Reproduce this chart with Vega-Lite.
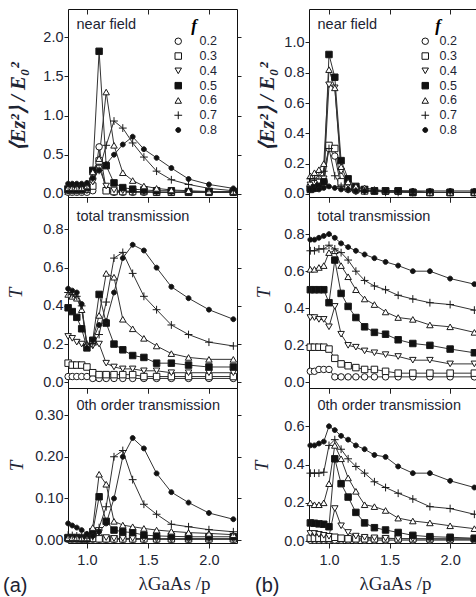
{
"$schema": "https://vega.github.io/schema/vega-lite/v6.json",
"padding": {"left": 2, "top": 8, "right": 0, "bottom": 0},
"background": "white",
"config": {
 "view": {"stroke": "#111", "strokeWidth": 1},
 "axis": {"grid": false, "domain": false, "labelFont": "Liberation Sans", "labelFontSize": 14.5, "labelColor": "#1d2433", "tickColor": "#222", "tickWidth": 1, "labelFlush": false, "titleFont": "Liberation Serif", "titleColor": "#1d2433", "titleFontWeight": "normal"},
 "legend": {"padding": 0}
},
"datasets": {
"a1": [
{"f":"0.2","x":0.846,"y":0.02},{"f":"0.2","x":0.88,"y":0.02},{"f":"0.2","x":0.917,"y":0.02},{"f":"0.2","x":0.957,"y":0.02},{"f":"0.2","x":1.0,"y":0.02},{"f":"0.2","x":1.048,"y":0.04},{"f":"0.2","x":1.1,"y":0.6},{"f":"0.2","x":1.158,"y":0.05},{"f":"0.2","x":1.222,"y":0.02},{"f":"0.2","x":1.294,"y":0.02},{"f":"0.2","x":1.375,"y":0.02},{"f":"0.2","x":1.467,"y":0.02},{"f":"0.2","x":1.571,"y":0.02},{"f":"0.2","x":1.692,"y":0.02},{"f":"0.2","x":1.833,"y":0.02},{"f":"0.2","x":2.0,"y":0.02},{"f":"0.2","x":2.2,"y":0.02},
{"f":"0.3","x":0.846,"y":0.05},{"f":"0.3","x":0.88,"y":0.05},{"f":"0.3","x":0.917,"y":0.05},{"f":"0.3","x":0.957,"y":0.05},{"f":"0.3","x":1.0,"y":0.06},{"f":"0.3","x":1.048,"y":0.1},{"f":"0.3","x":1.1,"y":0.42},{"f":"0.3","x":1.158,"y":0.04},{"f":"0.3","x":1.222,"y":0.03},{"f":"0.3","x":1.294,"y":0.03},{"f":"0.3","x":1.375,"y":0.03},{"f":"0.3","x":1.467,"y":0.03},{"f":"0.3","x":1.571,"y":0.02},{"f":"0.3","x":1.692,"y":0.02},{"f":"0.3","x":1.833,"y":0.02},{"f":"0.3","x":2.0,"y":0.02},{"f":"0.3","x":2.2,"y":0.02},
{"f":"0.4","x":0.846,"y":0.03},{"f":"0.4","x":0.88,"y":0.03},{"f":"0.4","x":0.917,"y":0.03},{"f":"0.4","x":0.957,"y":0.03},{"f":"0.4","x":1.0,"y":0.04},{"f":"0.4","x":1.048,"y":0.15},{"f":"0.4","x":1.1,"y":0.33},{"f":"0.4","x":1.158,"y":0.1},{"f":"0.4","x":1.222,"y":0.05},{"f":"0.4","x":1.294,"y":0.04},{"f":"0.4","x":1.375,"y":0.03},{"f":"0.4","x":1.467,"y":0.03},{"f":"0.4","x":1.571,"y":0.02},{"f":"0.4","x":1.692,"y":0.02},{"f":"0.4","x":1.833,"y":0.02},{"f":"0.4","x":2.0,"y":0.02},{"f":"0.4","x":2.2,"y":0.02},
{"f":"0.5","x":0.846,"y":0.06},{"f":"0.5","x":0.88,"y":0.06},{"f":"0.5","x":0.917,"y":0.06},{"f":"0.5","x":0.957,"y":0.06},{"f":"0.5","x":1.0,"y":0.08},{"f":"0.5","x":1.048,"y":0.3},{"f":"0.5","x":1.1,"y":1.82},{"f":"0.5","x":1.158,"y":0.36},{"f":"0.5","x":1.222,"y":0.14},{"f":"0.5","x":1.294,"y":0.08},{"f":"0.5","x":1.375,"y":0.06},{"f":"0.5","x":1.467,"y":0.05},{"f":"0.5","x":1.571,"y":0.04},{"f":"0.5","x":1.692,"y":0.04},{"f":"0.5","x":1.833,"y":0.03},{"f":"0.5","x":2.0,"y":0.03},{"f":"0.5","x":2.2,"y":0.03},
{"f":"0.6","x":0.846,"y":0.08},{"f":"0.6","x":0.88,"y":0.08},{"f":"0.6","x":0.917,"y":0.08},{"f":"0.6","x":0.957,"y":0.08},{"f":"0.6","x":1.0,"y":0.1},{"f":"0.6","x":1.048,"y":0.28},{"f":"0.6","x":1.1,"y":0.45},{"f":"0.6","x":1.158,"y":1.3},{"f":"0.6","x":1.222,"y":0.62},{"f":"0.6","x":1.294,"y":0.27},{"f":"0.6","x":1.375,"y":0.17},{"f":"0.6","x":1.467,"y":0.1},{"f":"0.6","x":1.571,"y":0.07},{"f":"0.6","x":1.692,"y":0.05},{"f":"0.6","x":1.833,"y":0.04},{"f":"0.6","x":2.0,"y":0.03},{"f":"0.6","x":2.2,"y":0.03},
{"f":"0.7","x":0.846,"y":0.1},{"f":"0.7","x":0.88,"y":0.1},{"f":"0.7","x":0.917,"y":0.1},{"f":"0.7","x":0.957,"y":0.1},{"f":"0.7","x":1.0,"y":0.12},{"f":"0.7","x":1.048,"y":0.2},{"f":"0.7","x":1.1,"y":0.3},{"f":"0.7","x":1.158,"y":0.62},{"f":"0.7","x":1.222,"y":0.93},{"f":"0.7","x":1.294,"y":0.84},{"f":"0.7","x":1.375,"y":0.65},{"f":"0.7","x":1.467,"y":0.47},{"f":"0.7","x":1.571,"y":0.29},{"f":"0.7","x":1.692,"y":0.18},{"f":"0.7","x":1.833,"y":0.12},{"f":"0.7","x":2.0,"y":0.07},{"f":"0.7","x":2.2,"y":0.04},
{"f":"0.8","x":0.846,"y":0.13},{"f":"0.8","x":0.88,"y":0.13},{"f":"0.8","x":0.917,"y":0.13},{"f":"0.8","x":0.957,"y":0.13},{"f":"0.8","x":1.0,"y":0.14},{"f":"0.8","x":1.048,"y":0.2},{"f":"0.8","x":1.1,"y":0.3},{"f":"0.8","x":1.158,"y":0.38},{"f":"0.8","x":1.222,"y":0.5},{"f":"0.8","x":1.294,"y":0.63},{"f":"0.8","x":1.375,"y":0.73},{"f":"0.8","x":1.467,"y":0.57},{"f":"0.8","x":1.571,"y":0.46},{"f":"0.8","x":1.692,"y":0.33},{"f":"0.8","x":1.833,"y":0.19},{"f":"0.8","x":2.0,"y":0.12},{"f":"0.8","x":2.2,"y":0.07}
],
"b1": [
{"f":"0.2","x":0.846,"y":0.05},{"f":"0.2","x":0.88,"y":0.06},{"f":"0.2","x":0.917,"y":0.06},{"f":"0.2","x":0.957,"y":0.08},{"f":"0.2","x":1.0,"y":0.3},{"f":"0.2","x":1.048,"y":0.25},{"f":"0.2","x":1.1,"y":0.05},{"f":"0.2","x":1.158,"y":0.03},{"f":"0.2","x":1.222,"y":0.02},{"f":"0.2","x":1.294,"y":0.02},{"f":"0.2","x":1.375,"y":0.02},{"f":"0.2","x":1.467,"y":0.02},{"f":"0.2","x":1.571,"y":0.02},{"f":"0.2","x":1.692,"y":0.01},{"f":"0.2","x":1.833,"y":0.01},{"f":"0.2","x":2.0,"y":0.01},{"f":"0.2","x":2.2,"y":0.01},
{"f":"0.3","x":0.846,"y":0.04},{"f":"0.3","x":0.88,"y":0.04},{"f":"0.3","x":0.917,"y":0.05},{"f":"0.3","x":0.957,"y":0.07},{"f":"0.3","x":1.0,"y":0.32},{"f":"0.3","x":1.048,"y":0.3},{"f":"0.3","x":1.1,"y":0.08},{"f":"0.3","x":1.158,"y":0.04},{"f":"0.3","x":1.222,"y":0.03},{"f":"0.3","x":1.294,"y":0.02},{"f":"0.3","x":1.375,"y":0.02},{"f":"0.3","x":1.467,"y":0.02},{"f":"0.3","x":1.571,"y":0.02},{"f":"0.3","x":1.692,"y":0.01},{"f":"0.3","x":1.833,"y":0.01},{"f":"0.3","x":2.0,"y":0.01},{"f":"0.3","x":2.2,"y":0.01},
{"f":"0.4","x":0.846,"y":0.06},{"f":"0.4","x":0.88,"y":0.07},{"f":"0.4","x":0.917,"y":0.08},{"f":"0.4","x":0.957,"y":0.1},{"f":"0.4","x":1.0,"y":0.72},{"f":"0.4","x":1.048,"y":0.7},{"f":"0.4","x":1.1,"y":0.15},{"f":"0.4","x":1.158,"y":0.06},{"f":"0.4","x":1.222,"y":0.04},{"f":"0.4","x":1.294,"y":0.03},{"f":"0.4","x":1.375,"y":0.02},{"f":"0.4","x":1.467,"y":0.02},{"f":"0.4","x":1.571,"y":0.02},{"f":"0.4","x":1.692,"y":0.01},{"f":"0.4","x":1.833,"y":0.01},{"f":"0.4","x":2.0,"y":0.01},{"f":"0.4","x":2.2,"y":0.01},
{"f":"0.5","x":0.846,"y":0.03},{"f":"0.5","x":0.88,"y":0.04},{"f":"0.5","x":0.917,"y":0.05},{"f":"0.5","x":0.957,"y":0.08},{"f":"0.5","x":1.0,"y":0.92},{"f":"0.5","x":1.048,"y":0.77},{"f":"0.5","x":1.1,"y":0.22},{"f":"0.5","x":1.158,"y":0.1},{"f":"0.5","x":1.222,"y":0.05},{"f":"0.5","x":1.294,"y":0.03},{"f":"0.5","x":1.375,"y":0.02},{"f":"0.5","x":1.467,"y":0.02},{"f":"0.5","x":1.571,"y":0.02},{"f":"0.5","x":1.692,"y":0.01},{"f":"0.5","x":1.833,"y":0.01},{"f":"0.5","x":2.0,"y":0.01},{"f":"0.5","x":2.2,"y":0.01},
{"f":"0.6","x":0.846,"y":0.12},{"f":"0.6","x":0.88,"y":0.14},{"f":"0.6","x":0.917,"y":0.16},{"f":"0.6","x":0.957,"y":0.2},{"f":"0.6","x":1.0,"y":0.82},{"f":"0.6","x":1.048,"y":0.7},{"f":"0.6","x":1.1,"y":0.18},{"f":"0.6","x":1.158,"y":0.08},{"f":"0.6","x":1.222,"y":0.05},{"f":"0.6","x":1.294,"y":0.04},{"f":"0.6","x":1.375,"y":0.03},{"f":"0.6","x":1.467,"y":0.02},{"f":"0.6","x":1.571,"y":0.02},{"f":"0.6","x":1.692,"y":0.02},{"f":"0.6","x":1.833,"y":0.01},{"f":"0.6","x":2.0,"y":0.01},{"f":"0.6","x":2.2,"y":0.01},
{"f":"0.7","x":0.846,"y":0.1},{"f":"0.7","x":0.88,"y":0.1},{"f":"0.7","x":0.917,"y":0.12},{"f":"0.7","x":0.957,"y":0.15},{"f":"0.7","x":1.0,"y":0.3},{"f":"0.7","x":1.048,"y":0.12},{"f":"0.7","x":1.1,"y":0.05},{"f":"0.7","x":1.158,"y":0.03},{"f":"0.7","x":1.222,"y":0.02},{"f":"0.7","x":1.294,"y":0.02},{"f":"0.7","x":1.375,"y":0.02},{"f":"0.7","x":1.467,"y":0.01},{"f":"0.7","x":1.571,"y":0.01},{"f":"0.7","x":1.692,"y":0.01},{"f":"0.7","x":1.833,"y":0.01},{"f":"0.7","x":2.0,"y":0.01},{"f":"0.7","x":2.2,"y":0.01},
{"f":"0.8","x":0.846,"y":0.03},{"f":"0.8","x":0.88,"y":0.03},{"f":"0.8","x":0.917,"y":0.03},{"f":"0.8","x":0.957,"y":0.04},{"f":"0.8","x":1.0,"y":0.05},{"f":"0.8","x":1.048,"y":0.04},{"f":"0.8","x":1.1,"y":0.03},{"f":"0.8","x":1.158,"y":0.03},{"f":"0.8","x":1.222,"y":0.02},{"f":"0.8","x":1.294,"y":0.02},{"f":"0.8","x":1.375,"y":0.02},{"f":"0.8","x":1.467,"y":0.02},{"f":"0.8","x":1.571,"y":0.02},{"f":"0.8","x":1.692,"y":0.02},{"f":"0.8","x":1.833,"y":0.02},{"f":"0.8","x":2.0,"y":0.02},{"f":"0.8","x":2.2,"y":0.02}
],
"a2": [
{"f":"0.2","x":0.846,"y":0.03},{"f":"0.2","x":0.88,"y":0.03},{"f":"0.2","x":0.917,"y":0.03},{"f":"0.2","x":0.957,"y":0.03},{"f":"0.2","x":1.0,"y":0.03},{"f":"0.2","x":1.048,"y":0.02},{"f":"0.2","x":1.1,"y":0.02},{"f":"0.2","x":1.158,"y":0.02},{"f":"0.2","x":1.222,"y":0.02},{"f":"0.2","x":1.294,"y":0.02},{"f":"0.2","x":1.375,"y":0.02},{"f":"0.2","x":1.467,"y":0.02},{"f":"0.2","x":1.571,"y":0.02},{"f":"0.2","x":1.692,"y":0.02},{"f":"0.2","x":1.833,"y":0.02},{"f":"0.2","x":2.0,"y":0.02},{"f":"0.2","x":2.2,"y":0.02},
{"f":"0.3","x":0.846,"y":0.1},{"f":"0.3","x":0.88,"y":0.09},{"f":"0.3","x":0.917,"y":0.09},{"f":"0.3","x":0.957,"y":0.09},{"f":"0.3","x":1.0,"y":0.08},{"f":"0.3","x":1.048,"y":0.05},{"f":"0.3","x":1.1,"y":0.04},{"f":"0.3","x":1.158,"y":0.04},{"f":"0.3","x":1.222,"y":0.04},{"f":"0.3","x":1.294,"y":0.04},{"f":"0.3","x":1.375,"y":0.04},{"f":"0.3","x":1.467,"y":0.03},{"f":"0.3","x":1.571,"y":0.03},{"f":"0.3","x":1.692,"y":0.03},{"f":"0.3","x":1.833,"y":0.03},{"f":"0.3","x":2.0,"y":0.03},{"f":"0.3","x":2.2,"y":0.03},
{"f":"0.4","x":0.846,"y":0.24},{"f":"0.4","x":0.88,"y":0.23},{"f":"0.4","x":0.917,"y":0.21},{"f":"0.4","x":0.957,"y":0.2},{"f":"0.4","x":1.0,"y":0.18},{"f":"0.4","x":1.048,"y":0.19},{"f":"0.4","x":1.1,"y":0.2},{"f":"0.4","x":1.158,"y":0.1},{"f":"0.4","x":1.222,"y":0.08},{"f":"0.4","x":1.294,"y":0.07},{"f":"0.4","x":1.375,"y":0.07},{"f":"0.4","x":1.467,"y":0.06},{"f":"0.4","x":1.571,"y":0.06},{"f":"0.4","x":1.692,"y":0.05},{"f":"0.4","x":1.833,"y":0.05},{"f":"0.4","x":2.0,"y":0.05},{"f":"0.4","x":2.2,"y":0.05},
{"f":"0.5","x":0.846,"y":0.39},{"f":"0.5","x":0.88,"y":0.37},{"f":"0.5","x":0.917,"y":0.34},{"f":"0.5","x":0.957,"y":0.28},{"f":"0.5","x":1.0,"y":0.18},{"f":"0.5","x":1.048,"y":0.22},{"f":"0.5","x":1.1,"y":0.46},{"f":"0.5","x":1.158,"y":0.31},{"f":"0.5","x":1.222,"y":0.2},{"f":"0.5","x":1.294,"y":0.17},{"f":"0.5","x":1.375,"y":0.14},{"f":"0.5","x":1.467,"y":0.13},{"f":"0.5","x":1.571,"y":0.1},{"f":"0.5","x":1.692,"y":0.1},{"f":"0.5","x":1.833,"y":0.09},{"f":"0.5","x":2.0,"y":0.08},{"f":"0.5","x":2.2,"y":0.08},
{"f":"0.6","x":0.846,"y":0.46},{"f":"0.6","x":0.88,"y":0.45},{"f":"0.6","x":0.917,"y":0.44},{"f":"0.6","x":0.957,"y":0.38},{"f":"0.6","x":1.0,"y":0.2},{"f":"0.6","x":1.048,"y":0.22},{"f":"0.6","x":1.1,"y":0.35},{"f":"0.6","x":1.158,"y":0.57},{"f":"0.6","x":1.222,"y":0.55},{"f":"0.6","x":1.294,"y":0.33},{"f":"0.6","x":1.375,"y":0.28},{"f":"0.6","x":1.467,"y":0.23},{"f":"0.6","x":1.571,"y":0.19},{"f":"0.6","x":1.692,"y":0.15},{"f":"0.6","x":1.833,"y":0.13},{"f":"0.6","x":2.0,"y":0.12},{"f":"0.6","x":2.2,"y":0.12},
{"f":"0.7","x":0.846,"y":0.47},{"f":"0.7","x":0.88,"y":0.46},{"f":"0.7","x":0.917,"y":0.45},{"f":"0.7","x":0.957,"y":0.4},{"f":"0.7","x":1.0,"y":0.2},{"f":"0.7","x":1.048,"y":0.2},{"f":"0.7","x":1.1,"y":0.25},{"f":"0.7","x":1.158,"y":0.42},{"f":"0.7","x":1.222,"y":0.65},{"f":"0.7","x":1.294,"y":0.68},{"f":"0.7","x":1.375,"y":0.57},{"f":"0.7","x":1.467,"y":0.45},{"f":"0.7","x":1.571,"y":0.38},{"f":"0.7","x":1.692,"y":0.3},{"f":"0.7","x":1.833,"y":0.25},{"f":"0.7","x":2.0,"y":0.21},{"f":"0.7","x":2.2,"y":0.19},
{"f":"0.8","x":0.846,"y":0.49},{"f":"0.8","x":0.88,"y":0.48},{"f":"0.8","x":0.917,"y":0.47},{"f":"0.8","x":0.957,"y":0.41},{"f":"0.8","x":1.0,"y":0.18},{"f":"0.8","x":1.048,"y":0.22},{"f":"0.8","x":1.1,"y":0.3},{"f":"0.8","x":1.158,"y":0.32},{"f":"0.8","x":1.222,"y":0.47},{"f":"0.8","x":1.294,"y":0.65},{"f":"0.8","x":1.375,"y":0.72},{"f":"0.8","x":1.467,"y":0.69},{"f":"0.8","x":1.571,"y":0.6},{"f":"0.8","x":1.692,"y":0.5},{"f":"0.8","x":1.833,"y":0.44},{"f":"0.8","x":2.0,"y":0.38},{"f":"0.8","x":2.2,"y":0.33}
],
"b2": [
{"f":"0.2","x":0.846,"y":0.06},{"f":"0.2","x":0.88,"y":0.06},{"f":"0.2","x":0.917,"y":0.07},{"f":"0.2","x":0.957,"y":0.07},{"f":"0.2","x":1.0,"y":0.07},{"f":"0.2","x":1.048,"y":0.03},{"f":"0.2","x":1.1,"y":0.03},{"f":"0.2","x":1.158,"y":0.03},{"f":"0.2","x":1.222,"y":0.03},{"f":"0.2","x":1.294,"y":0.03},{"f":"0.2","x":1.375,"y":0.03},{"f":"0.2","x":1.467,"y":0.03},{"f":"0.2","x":1.571,"y":0.03},{"f":"0.2","x":1.692,"y":0.03},{"f":"0.2","x":1.833,"y":0.03},{"f":"0.2","x":2.0,"y":0.03},{"f":"0.2","x":2.2,"y":0.03},
{"f":"0.3","x":0.846,"y":0.19},{"f":"0.3","x":0.88,"y":0.19},{"f":"0.3","x":0.917,"y":0.19},{"f":"0.3","x":0.957,"y":0.19},{"f":"0.3","x":1.0,"y":0.18},{"f":"0.3","x":1.048,"y":0.13},{"f":"0.3","x":1.1,"y":0.1},{"f":"0.3","x":1.158,"y":0.09},{"f":"0.3","x":1.222,"y":0.08},{"f":"0.3","x":1.294,"y":0.07},{"f":"0.3","x":1.375,"y":0.07},{"f":"0.3","x":1.467,"y":0.06},{"f":"0.3","x":1.571,"y":0.05},{"f":"0.3","x":1.692,"y":0.05},{"f":"0.3","x":1.833,"y":0.05},{"f":"0.3","x":2.0,"y":0.05},{"f":"0.3","x":2.2,"y":0.05},
{"f":"0.4","x":0.846,"y":0.35},{"f":"0.4","x":0.88,"y":0.35},{"f":"0.4","x":0.917,"y":0.34},{"f":"0.4","x":0.957,"y":0.34},{"f":"0.4","x":1.0,"y":0.3},{"f":"0.4","x":1.048,"y":0.41},{"f":"0.4","x":1.1,"y":0.26},{"f":"0.4","x":1.158,"y":0.2},{"f":"0.4","x":1.222,"y":0.19},{"f":"0.4","x":1.294,"y":0.17},{"f":"0.4","x":1.375,"y":0.16},{"f":"0.4","x":1.467,"y":0.15},{"f":"0.4","x":1.571,"y":0.14},{"f":"0.4","x":1.692,"y":0.12},{"f":"0.4","x":1.833,"y":0.12},{"f":"0.4","x":2.0,"y":0.1},{"f":"0.4","x":2.2,"y":0.1},
{"f":"0.5","x":0.846,"y":0.5},{"f":"0.5","x":0.88,"y":0.5},{"f":"0.5","x":0.917,"y":0.5},{"f":"0.5","x":0.957,"y":0.5},{"f":"0.5","x":1.0,"y":0.43},{"f":"0.5","x":1.048,"y":0.66},{"f":"0.5","x":1.1,"y":0.48},{"f":"0.5","x":1.158,"y":0.41},{"f":"0.5","x":1.222,"y":0.35},{"f":"0.5","x":1.294,"y":0.3},{"f":"0.5","x":1.375,"y":0.27},{"f":"0.5","x":1.467,"y":0.26},{"f":"0.5","x":1.571,"y":0.23},{"f":"0.5","x":1.692,"y":0.21},{"f":"0.5","x":1.833,"y":0.2},{"f":"0.5","x":2.0,"y":0.18},{"f":"0.5","x":2.2,"y":0.16},
{"f":"0.6","x":0.846,"y":0.61},{"f":"0.6","x":0.88,"y":0.61},{"f":"0.6","x":0.917,"y":0.62},{"f":"0.6","x":0.957,"y":0.63},{"f":"0.6","x":1.0,"y":0.7},{"f":"0.6","x":1.048,"y":0.71},{"f":"0.6","x":1.1,"y":0.63},{"f":"0.6","x":1.158,"y":0.57},{"f":"0.6","x":1.222,"y":0.5},{"f":"0.6","x":1.294,"y":0.45},{"f":"0.6","x":1.375,"y":0.42},{"f":"0.6","x":1.467,"y":0.38},{"f":"0.6","x":1.571,"y":0.35},{"f":"0.6","x":1.692,"y":0.34},{"f":"0.6","x":1.833,"y":0.31},{"f":"0.6","x":2.0,"y":0.3},{"f":"0.6","x":2.2,"y":0.27},
{"f":"0.7","x":0.846,"y":0.71},{"f":"0.7","x":0.88,"y":0.71},{"f":"0.7","x":0.917,"y":0.72},{"f":"0.7","x":0.957,"y":0.72},{"f":"0.7","x":1.0,"y":0.74},{"f":"0.7","x":1.048,"y":0.72},{"f":"0.7","x":1.1,"y":0.7},{"f":"0.7","x":1.158,"y":0.66},{"f":"0.7","x":1.222,"y":0.6},{"f":"0.7","x":1.294,"y":0.55},{"f":"0.7","x":1.375,"y":0.52},{"f":"0.7","x":1.467,"y":0.5},{"f":"0.7","x":1.571,"y":0.47},{"f":"0.7","x":1.692,"y":0.45},{"f":"0.7","x":1.833,"y":0.43},{"f":"0.7","x":2.0,"y":0.42},{"f":"0.7","x":2.2,"y":0.39},
{"f":"0.8","x":0.846,"y":0.77},{"f":"0.8","x":0.88,"y":0.77},{"f":"0.8","x":0.917,"y":0.78},{"f":"0.8","x":0.957,"y":0.79},{"f":"0.8","x":1.0,"y":0.8},{"f":"0.8","x":1.048,"y":0.78},{"f":"0.8","x":1.1,"y":0.75},{"f":"0.8","x":1.158,"y":0.73},{"f":"0.8","x":1.222,"y":0.71},{"f":"0.8","x":1.294,"y":0.69},{"f":"0.8","x":1.375,"y":0.67},{"f":"0.8","x":1.467,"y":0.65},{"f":"0.8","x":1.571,"y":0.63},{"f":"0.8","x":1.692,"y":0.6},{"f":"0.8","x":1.833,"y":0.6},{"f":"0.8","x":2.0,"y":0.56},{"f":"0.8","x":2.2,"y":0.53}
],
"a3": [
{"f":"0.2","x":0.846,"y":0.002},{"f":"0.2","x":0.88,"y":0.002},{"f":"0.2","x":0.917,"y":0.002},{"f":"0.2","x":0.957,"y":0.002},{"f":"0.2","x":1.0,"y":0.002},{"f":"0.2","x":1.048,"y":0.002},{"f":"0.2","x":1.1,"y":0.002},{"f":"0.2","x":1.158,"y":0.002},{"f":"0.2","x":1.222,"y":0.002},{"f":"0.2","x":1.294,"y":0.002},{"f":"0.2","x":1.375,"y":0.002},{"f":"0.2","x":1.467,"y":0.002},{"f":"0.2","x":1.571,"y":0.002},{"f":"0.2","x":1.692,"y":0.002},{"f":"0.2","x":1.833,"y":0.002},{"f":"0.2","x":2.0,"y":0.002},{"f":"0.2","x":2.2,"y":0.002},
{"f":"0.3","x":0.846,"y":0.006},{"f":"0.3","x":0.88,"y":0.006},{"f":"0.3","x":0.917,"y":0.006},{"f":"0.3","x":0.957,"y":0.006},{"f":"0.3","x":1.0,"y":0.005},{"f":"0.3","x":1.048,"y":0.004},{"f":"0.3","x":1.1,"y":0.003},{"f":"0.3","x":1.158,"y":0.003},{"f":"0.3","x":1.222,"y":0.003},{"f":"0.3","x":1.294,"y":0.003},{"f":"0.3","x":1.375,"y":0.003},{"f":"0.3","x":1.467,"y":0.003},{"f":"0.3","x":1.571,"y":0.003},{"f":"0.3","x":1.692,"y":0.003},{"f":"0.3","x":1.833,"y":0.003},{"f":"0.3","x":2.0,"y":0.003},{"f":"0.3","x":2.2,"y":0.003},
{"f":"0.4","x":0.846,"y":0.005},{"f":"0.4","x":0.88,"y":0.005},{"f":"0.4","x":0.917,"y":0.005},{"f":"0.4","x":0.957,"y":0.004},{"f":"0.4","x":1.0,"y":0.004},{"f":"0.4","x":1.048,"y":0.008},{"f":"0.4","x":1.1,"y":0.018},{"f":"0.4","x":1.158,"y":0.006},{"f":"0.4","x":1.222,"y":0.004},{"f":"0.4","x":1.294,"y":0.004},{"f":"0.4","x":1.375,"y":0.004},{"f":"0.4","x":1.467,"y":0.003},{"f":"0.4","x":1.571,"y":0.003},{"f":"0.4","x":1.692,"y":0.003},{"f":"0.4","x":1.833,"y":0.003},{"f":"0.4","x":2.0,"y":0.003},{"f":"0.4","x":2.2,"y":0.003},
{"f":"0.5","x":0.846,"y":0.004},{"f":"0.5","x":0.88,"y":0.004},{"f":"0.5","x":0.917,"y":0.004},{"f":"0.5","x":0.957,"y":0.003},{"f":"0.5","x":1.0,"y":0.003},{"f":"0.5","x":1.048,"y":0.02},{"f":"0.5","x":1.1,"y":0.104},{"f":"0.5","x":1.158,"y":0.045},{"f":"0.5","x":1.222,"y":0.024},{"f":"0.5","x":1.294,"y":0.02},{"f":"0.5","x":1.375,"y":0.018},{"f":"0.5","x":1.467,"y":0.012},{"f":"0.5","x":1.571,"y":0.01},{"f":"0.5","x":1.692,"y":0.009},{"f":"0.5","x":1.833,"y":0.008},{"f":"0.5","x":2.0,"y":0.008},{"f":"0.5","x":2.2,"y":0.008},
{"f":"0.6","x":0.846,"y":0.006},{"f":"0.6","x":0.88,"y":0.006},{"f":"0.6","x":0.917,"y":0.006},{"f":"0.6","x":0.957,"y":0.005},{"f":"0.6","x":1.0,"y":0.005},{"f":"0.6","x":1.048,"y":0.03},{"f":"0.6","x":1.1,"y":0.158},{"f":"0.6","x":1.158,"y":0.134},{"f":"0.6","x":1.222,"y":0.045},{"f":"0.6","x":1.294,"y":0.036},{"f":"0.6","x":1.375,"y":0.032},{"f":"0.6","x":1.467,"y":0.028},{"f":"0.6","x":1.571,"y":0.024},{"f":"0.6","x":1.692,"y":0.021},{"f":"0.6","x":1.833,"y":0.018},{"f":"0.6","x":2.0,"y":0.016},{"f":"0.6","x":2.2,"y":0.013},
{"f":"0.7","x":0.846,"y":0.012},{"f":"0.7","x":0.88,"y":0.011},{"f":"0.7","x":0.917,"y":0.01},{"f":"0.7","x":0.957,"y":0.008},{"f":"0.7","x":1.0,"y":0.005},{"f":"0.7","x":1.048,"y":0.008},{"f":"0.7","x":1.1,"y":0.03},{"f":"0.7","x":1.158,"y":0.08},{"f":"0.7","x":1.222,"y":0.2},{"f":"0.7","x":1.294,"y":0.215},{"f":"0.7","x":1.375,"y":0.145},{"f":"0.7","x":1.467,"y":0.086},{"f":"0.7","x":1.571,"y":0.062},{"f":"0.7","x":1.692,"y":0.038},{"f":"0.7","x":1.833,"y":0.032},{"f":"0.7","x":2.0,"y":0.025},{"f":"0.7","x":2.2,"y":0.02},
{"f":"0.8","x":0.846,"y":0.04},{"f":"0.8","x":0.88,"y":0.035},{"f":"0.8","x":0.917,"y":0.03},{"f":"0.8","x":0.957,"y":0.024},{"f":"0.8","x":1.0,"y":0.015},{"f":"0.8","x":1.048,"y":0.01},{"f":"0.8","x":1.1,"y":0.02},{"f":"0.8","x":1.158,"y":0.04},{"f":"0.8","x":1.222,"y":0.1},{"f":"0.8","x":1.294,"y":0.2},{"f":"0.8","x":1.375,"y":0.245},{"f":"0.8","x":1.467,"y":0.22},{"f":"0.8","x":1.571,"y":0.16},{"f":"0.8","x":1.692,"y":0.115},{"f":"0.8","x":1.833,"y":0.09},{"f":"0.8","x":2.0,"y":0.065},{"f":"0.8","x":2.2,"y":0.05}
],
"b3": [
{"f":"0.2","x":0.846,"y":0.005},{"f":"0.2","x":0.88,"y":0.005},{"f":"0.2","x":0.917,"y":0.005},{"f":"0.2","x":0.957,"y":0.005},{"f":"0.2","x":1.0,"y":0.005},{"f":"0.2","x":1.048,"y":0.005},{"f":"0.2","x":1.1,"y":0.005},{"f":"0.2","x":1.158,"y":0.005},{"f":"0.2","x":1.222,"y":0.005},{"f":"0.2","x":1.294,"y":0.005},{"f":"0.2","x":1.375,"y":0.005},{"f":"0.2","x":1.467,"y":0.005},{"f":"0.2","x":1.571,"y":0.005},{"f":"0.2","x":1.692,"y":0.005},{"f":"0.2","x":1.833,"y":0.005},{"f":"0.2","x":2.0,"y":0.005},{"f":"0.2","x":2.2,"y":0.005},
{"f":"0.3","x":0.846,"y":0.015},{"f":"0.3","x":0.88,"y":0.015},{"f":"0.3","x":0.917,"y":0.015},{"f":"0.3","x":0.957,"y":0.015},{"f":"0.3","x":1.0,"y":0.015},{"f":"0.3","x":1.048,"y":0.02},{"f":"0.3","x":1.1,"y":0.015},{"f":"0.3","x":1.158,"y":0.012},{"f":"0.3","x":1.222,"y":0.012},{"f":"0.3","x":1.294,"y":0.012},{"f":"0.3","x":1.375,"y":0.012},{"f":"0.3","x":1.467,"y":0.012},{"f":"0.3","x":1.571,"y":0.012},{"f":"0.3","x":1.692,"y":0.012},{"f":"0.3","x":1.833,"y":0.012},{"f":"0.3","x":2.0,"y":0.012},{"f":"0.3","x":2.2,"y":0.012},
{"f":"0.4","x":0.846,"y":0.04},{"f":"0.4","x":0.88,"y":0.04},{"f":"0.4","x":0.917,"y":0.035},{"f":"0.4","x":0.957,"y":0.03},{"f":"0.4","x":1.0,"y":0.025},{"f":"0.4","x":1.048,"y":0.17},{"f":"0.4","x":1.1,"y":0.08},{"f":"0.4","x":1.158,"y":0.045},{"f":"0.4","x":1.222,"y":0.026},{"f":"0.4","x":1.294,"y":0.02},{"f":"0.4","x":1.375,"y":0.017},{"f":"0.4","x":1.467,"y":0.015},{"f":"0.4","x":1.571,"y":0.013},{"f":"0.4","x":1.692,"y":0.012},{"f":"0.4","x":1.833,"y":0.011},{"f":"0.4","x":2.0,"y":0.01},{"f":"0.4","x":2.2,"y":0.01},
{"f":"0.5","x":0.846,"y":0.095},{"f":"0.5","x":0.88,"y":0.093},{"f":"0.5","x":0.917,"y":0.09},{"f":"0.5","x":0.957,"y":0.088},{"f":"0.5","x":1.0,"y":0.075},{"f":"0.5","x":1.048,"y":0.43},{"f":"0.5","x":1.1,"y":0.3},{"f":"0.5","x":1.158,"y":0.23},{"f":"0.5","x":1.222,"y":0.15},{"f":"0.5","x":1.294,"y":0.095},{"f":"0.5","x":1.375,"y":0.07},{"f":"0.5","x":1.467,"y":0.058},{"f":"0.5","x":1.571,"y":0.045},{"f":"0.5","x":1.692,"y":0.03},{"f":"0.5","x":1.833,"y":0.023},{"f":"0.5","x":2.0,"y":0.02},{"f":"0.5","x":2.2,"y":0.015},
{"f":"0.6","x":0.846,"y":0.2},{"f":"0.6","x":0.88,"y":0.19},{"f":"0.6","x":0.917,"y":0.19},{"f":"0.6","x":0.957,"y":0.2},{"f":"0.6","x":1.0,"y":0.3},{"f":"0.6","x":1.048,"y":0.5},{"f":"0.6","x":1.1,"y":0.43},{"f":"0.6","x":1.158,"y":0.33},{"f":"0.6","x":1.222,"y":0.26},{"f":"0.6","x":1.294,"y":0.19},{"f":"0.6","x":1.375,"y":0.18},{"f":"0.6","x":1.467,"y":0.16},{"f":"0.6","x":1.571,"y":0.12},{"f":"0.6","x":1.692,"y":0.105},{"f":"0.6","x":1.833,"y":0.095},{"f":"0.6","x":2.0,"y":0.08},{"f":"0.6","x":2.2,"y":0.065},
{"f":"0.7","x":0.846,"y":0.355},{"f":"0.7","x":0.88,"y":0.355},{"f":"0.7","x":0.917,"y":0.355},{"f":"0.7","x":0.957,"y":0.36},{"f":"0.7","x":1.0,"y":0.5},{"f":"0.7","x":1.048,"y":0.53},{"f":"0.7","x":1.1,"y":0.48},{"f":"0.7","x":1.158,"y":0.43},{"f":"0.7","x":1.222,"y":0.39},{"f":"0.7","x":1.294,"y":0.355},{"f":"0.7","x":1.375,"y":0.31},{"f":"0.7","x":1.467,"y":0.28},{"f":"0.7","x":1.571,"y":0.25},{"f":"0.7","x":1.692,"y":0.22},{"f":"0.7","x":1.833,"y":0.18},{"f":"0.7","x":2.0,"y":0.17},{"f":"0.7","x":2.2,"y":0.14},
{"f":"0.8","x":0.846,"y":0.5},{"f":"0.8","x":0.88,"y":0.5},{"f":"0.8","x":0.917,"y":0.51},{"f":"0.8","x":0.957,"y":0.52},{"f":"0.8","x":1.0,"y":0.6},{"f":"0.8","x":1.048,"y":0.58},{"f":"0.8","x":1.1,"y":0.55},{"f":"0.8","x":1.158,"y":0.53},{"f":"0.8","x":1.222,"y":0.5},{"f":"0.8","x":1.294,"y":0.48},{"f":"0.8","x":1.375,"y":0.45},{"f":"0.8","x":1.467,"y":0.44},{"f":"0.8","x":1.571,"y":0.39},{"f":"0.8","x":1.692,"y":0.355},{"f":"0.8","x":1.833,"y":0.355},{"f":"0.8","x":2.0,"y":0.315},{"f":"0.8","x":2.2,"y":0.28}
]
},
"concat": [
{
 "width": 169, "height": 188, "data": {"name": "a1"},
 "layer": [
  {"mark": {"type": "line", "stroke": "#333", "strokeWidth": 1},
   "encoding": {
    "x": {"field": "x", "type": "quantitative", "scale": {"domain": [0.845, 2.23], "nice": false, "zero": false}, "axis": {"orient": "top", "values": [1, 1.5, 2], "labels": false, "tickSize": -5, "title": "near field", "titleX": 8, "titleY": 19, "titleAlign": "left", "titleAngle": 0, "titleBaseline": "alphabetic", "titleFont": "Liberation Sans", "titleFontSize": 14.5}},
    "y": {"field": "y", "type": "quantitative", "scale": {"domain": [-0.04, 2.36], "nice": false, "zero": false}, "axis": {"orient": "right", "values": [0, 0.5, 1, 1.5, 2], "labels": false, "tickSize": 4, "title": null}},
    "detail": {"field": "f"}
   }},
  {"mark": {"type": "point", "stroke": "#1a1a1a", "strokeWidth": 1, "opacity": 1, "size": 42},
   "encoding": {
    "x": {"field": "x", "type": "quantitative", "scale": {"domain": [0.845, 2.23], "nice": false, "zero": false}, "axis": {"orient": "bottom", "values": [1, 1.5, 2], "labels": false, "tickSize": 5, "title": null}},
    "y": {"field": "y", "type": "quantitative", "scale": {"domain": [-0.04, 2.36], "nice": false, "zero": false}, "axis": {"orient": "left", "values": [0, 0.5, 1, 1.5, 2], "format": ".1f", "tickSize": 4, "labelPadding": 1, "title": "⟨Ez²⟩ / E₀²", "titleFontStyle": "italic", "titleFontWeight": "bold", "titleFontSize": 21, "titleX": -44, "titleY": 97, "titleAlign": "center", "titleBaseline": "alphabetic"}},
    "shape": {"field": "f", "type": "nominal", "scale": {"domain": ["0.2","0.3","0.4","0.5","0.6","0.7","0.8"], "range": ["circle","square","triangle-down","square","triangle-up","M-1.2,0H1.2M0,-1.2V1.2","M-0.75,0A0.75,0.75,0,1,1,0.75,0A0.75,0.75,0,1,1,-0.75,0Z"]},
      "legend": {"orient": "none", "legendX": 104, "legendY": 9, "title": "f", "titleFont": "Liberation Serif", "titleFontStyle": "italic", "titleFontWeight": "bold", "titleFontSize": 17, "titleAnchor": "middle", "titlePadding": 0, "labelFont": "Liberation Sans", "labelFontSize": 12.5, "labelColor": "#1d2433", "labelOffset": 15, "rowPadding": 1.8, "symbolSize": 42, "symbolStrokeWidth": 1, "symbolStrokeColor": "#111", "symbolFillColor": "white",
        "encode": {"symbols": {"size": {"value": 42}, "stroke": {"value": "#111"}, "strokeWidth": {"value": 1}, "opacity": {"value": 1},
          "fill": {"value": {"signal": "datum.value=='0.5'||datum.value=='0.8'?'#111':'white'"}},
          "shape": {"value": {"signal": "datum.value=='0.2'?'M-2.5,0H-1M1,0H2.5M-1,0A1,1,0,1,1,1,0A1,1,0,1,1,-1,0Z':datum.value=='0.3'||datum.value=='0.5'?'M-2.5,0H-1M1,0H2.5M-1,-1H1V1H-1Z':datum.value=='0.4'?'M-2.5,0H-0.55M0.55,0H2.5M-1,-0.8H1L0,1Z':datum.value=='0.6'?'M-2.5,0H-0.55M0.55,0H2.5M-1,0.8H1L0,-1Z':datum.value=='0.7'?'M-2.5,0H2.5M0,-1.2V1.2':'M-2.5,0H2.5M-0.75,0A0.75,0.75,0,1,1,0.75,0A0.75,0.75,0,1,1,-0.75,0Z'"}}}}}},
    "fill": {"field": "f", "type": "nominal", "scale": {"domain": ["0.2","0.3","0.4","0.5","0.6","0.7","0.8"], "range": ["white","white","white","#111","white","white","#111"]}, "legend": null}
   }}
 ],
 "resolve": {"scale": {"x": "independent", "y": "independent"}}
},
{
 "width": 169, "height": 188, "data": {"name": "b1"},
 "layer": [
  {"mark": {"type": "line", "stroke": "#333", "strokeWidth": 1},
   "encoding": {
    "x": {"field": "x", "type": "quantitative", "scale": {"domain": [0.835, 2.23], "nice": false, "zero": false}, "axis": {"orient": "top", "values": [1, 1.5, 2], "labels": false, "tickSize": -5, "title": "near field", "titleX": 8, "titleY": 19, "titleAlign": "left", "titleAngle": 0, "titleBaseline": "alphabetic", "titleFont": "Liberation Sans", "titleFontSize": 14.5}},
    "y": {"field": "y", "type": "quantitative", "scale": {"domain": [-0.02, 1.22], "nice": false, "zero": false}, "axis": {"orient": "right", "values": [0, 0.2, 0.4, 0.6, 0.8, 1.0], "labels": false, "tickSize": 4, "title": null}},
    "detail": {"field": "f"}
   }},
  {"mark": {"type": "point", "stroke": "#1a1a1a", "strokeWidth": 1, "opacity": 1, "size": 42},
   "encoding": {
    "x": {"field": "x", "type": "quantitative", "scale": {"domain": [0.835, 2.23], "nice": false, "zero": false}, "axis": {"orient": "bottom", "values": [1, 1.5, 2], "labels": false, "tickSize": 5, "title": null}},
    "y": {"field": "y", "type": "quantitative", "scale": {"domain": [-0.02, 1.22], "nice": false, "zero": false}, "axis": {"orient": "left", "values": [0, 0.2, 0.4, 0.6, 0.8, 1.0], "format": ".1f", "tickSize": 4, "labelPadding": 1, "title": "⟨Ez²⟩ / E₀²", "titleFontStyle": "italic", "titleFontWeight": "bold", "titleFontSize": 21, "titleX": -36, "titleY": 97, "titleAlign": "center", "titleBaseline": "alphabetic"}},
    "shape": {"field": "f", "type": "nominal", "scale": {"domain": ["0.2","0.3","0.4","0.5","0.6","0.7","0.8"], "range": ["circle","square","triangle-down","square","triangle-up","M-1.2,0H1.2M0,-1.2V1.2","M-0.75,0A0.75,0.75,0,1,1,0.75,0A0.75,0.75,0,1,1,-0.75,0Z"]},
      "legend": {"orient": "none", "legendX": 110, "legendY": 9, "title": "f", "titleFont": "Liberation Serif", "titleFontStyle": "italic", "titleFontWeight": "bold", "titleFontSize": 17, "titleAnchor": "middle", "titlePadding": 0, "labelFont": "Liberation Sans", "labelFontSize": 12.5, "labelColor": "#1d2433", "labelOffset": 8, "rowPadding": 1.8, "symbolSize": 42, "symbolStrokeWidth": 1, "symbolStrokeColor": "#111", "symbolFillColor": "white",
        "encode": {"symbols": {"size": {"value": 42}, "stroke": {"value": "#111"}, "strokeWidth": {"value": 1}, "opacity": {"value": 1},
          "fill": {"value": {"signal": "datum.value=='0.5'||datum.value=='0.8'?'#111':'white'"}},
          "shape": {"value": {"signal": "datum.value=='0.2'?'M-2.5,0H-1M1,0H2.5M-1,0A1,1,0,1,1,1,0A1,1,0,1,1,-1,0Z':datum.value=='0.3'||datum.value=='0.5'?'M-2.5,0H-1M1,0H2.5M-1,-1H1V1H-1Z':datum.value=='0.4'?'M-2.5,0H-0.55M0.55,0H2.5M-1,-0.8H1L0,1Z':datum.value=='0.6'?'M-2.5,0H-0.55M0.55,0H2.5M-1,0.8H1L0,-1Z':datum.value=='0.7'?'M-2.5,0H2.5M0,-1.2V1.2':'M-2.5,0H2.5M-0.75,0A0.75,0.75,0,1,1,0.75,0A0.75,0.75,0,1,1,-0.75,0Z'"}}}}}},
    "fill": {"field": "f", "type": "nominal", "scale": {"domain": ["0.2","0.3","0.4","0.5","0.6","0.7","0.8"], "range": ["white","white","white","#111","white","white","#111"]}, "legend": null}
   }}
 ],
 "resolve": {"scale": {"x": "independent", "y": "independent"}}
},
{
 "width": 169, "height": 191, "data": {"name": "a2"},
 "layer": [
  {"mark": {"type": "line", "stroke": "#333", "strokeWidth": 1},
   "encoding": {
    "x": {"field": "x", "type": "quantitative", "scale": {"domain": [0.845, 2.23], "nice": false, "zero": false}, "axis": {"orient": "top", "values": [1, 1.5, 2], "labels": false, "tickSize": -5, "title": "total transmission", "titleX": 8, "titleY": 23, "titleAlign": "left", "titleAngle": 0, "titleBaseline": "alphabetic", "titleFont": "Liberation Sans", "titleFontSize": 14.5}},
    "y": {"field": "y", "type": "quantitative", "scale": {"domain": [-0.03, 0.97], "nice": false, "zero": false}, "axis": {"orient": "right", "values": [0, 0.2, 0.4, 0.6, 0.8], "labels": false, "tickSize": 4, "title": null}},
    "detail": {"field": "f"}
   }},
  {"mark": {"type": "point", "stroke": "#1a1a1a", "strokeWidth": 1, "opacity": 1, "size": 42},
   "encoding": {
    "x": {"field": "x", "type": "quantitative", "scale": {"domain": [0.845, 2.23], "nice": false, "zero": false}, "axis": {"orient": "bottom", "values": [1, 1.5, 2], "labels": false, "tickSize": 5, "title": null}},
    "y": {"field": "y", "type": "quantitative", "scale": {"domain": [-0.03, 0.97], "nice": false, "zero": false}, "axis": {"orient": "left", "values": [0, 0.2, 0.4, 0.6, 0.8], "format": ".1f", "tickSize": 4, "labelPadding": 1, "title": "T", "titleFontStyle": "italic", "titleFontSize": 19, "titleX": -47, "titleBaseline": "alphabetic"}},
    "shape": {"field": "f", "type": "nominal", "scale": {"domain": ["0.2","0.3","0.4","0.5","0.6","0.7","0.8"], "range": ["circle","square","triangle-down","square","triangle-up","M-1.2,0H1.2M0,-1.2V1.2","M-0.75,0A0.75,0.75,0,1,1,0.75,0A0.75,0.75,0,1,1,-0.75,0Z"]}, "legend": null},
    "fill": {"field": "f", "type": "nominal", "scale": {"domain": ["0.2","0.3","0.4","0.5","0.6","0.7","0.8"], "range": ["white","white","white","#111","white","white","#111"]}, "legend": null}
   }}
 ],
 "resolve": {"scale": {"x": "independent", "y": "independent"}}
},
{
 "width": 169, "height": 191, "data": {"name": "b2"},
 "layer": [
  {"mark": {"type": "line", "stroke": "#333", "strokeWidth": 1},
   "encoding": {
    "x": {"field": "x", "type": "quantitative", "scale": {"domain": [0.835, 2.23], "nice": false, "zero": false}, "axis": {"orient": "top", "values": [1, 1.5, 2], "labels": false, "tickSize": -5, "title": "total transmission", "titleX": 8, "titleY": 23, "titleAlign": "left", "titleAngle": 0, "titleBaseline": "alphabetic", "titleFont": "Liberation Sans", "titleFontSize": 14.5}},
    "y": {"field": "y", "type": "quantitative", "scale": {"domain": [-0.03, 1.0], "nice": false, "zero": false}, "axis": {"orient": "right", "values": [0, 0.2, 0.4, 0.6, 0.8], "labels": false, "tickSize": 4, "title": null}},
    "detail": {"field": "f"}
   }},
  {"mark": {"type": "point", "stroke": "#1a1a1a", "strokeWidth": 1, "opacity": 1, "size": 42},
   "encoding": {
    "x": {"field": "x", "type": "quantitative", "scale": {"domain": [0.835, 2.23], "nice": false, "zero": false}, "axis": {"orient": "bottom", "values": [1, 1.5, 2], "labels": false, "tickSize": 5, "title": null}},
    "y": {"field": "y", "type": "quantitative", "scale": {"domain": [-0.03, 1.0], "nice": false, "zero": false}, "axis": {"orient": "left", "values": [0, 0.2, 0.4, 0.6, 0.8], "format": ".1f", "tickSize": 4, "labelPadding": 1, "title": "T", "titleFontStyle": "italic", "titleFontSize": 19, "titleX": -40, "titleBaseline": "alphabetic"}},
    "shape": {"field": "f", "type": "nominal", "scale": {"domain": ["0.2","0.3","0.4","0.5","0.6","0.7","0.8"], "range": ["circle","square","triangle-down","square","triangle-up","M-1.2,0H1.2M0,-1.2V1.2","M-0.75,0A0.75,0.75,0,1,1,0.75,0A0.75,0.75,0,1,1,-0.75,0Z"]}, "legend": null},
    "fill": {"field": "f", "type": "nominal", "scale": {"domain": ["0.2","0.3","0.4","0.5","0.6","0.7","0.8"], "range": ["white","white","white","#111","white","white","#111"]}, "legend": null}
   }}
 ],
 "resolve": {"scale": {"x": "independent", "y": "independent"}}
},
{
 "width": 169, "height": 155, "data": {"name": "a3"},
 "title": {"text": "(a)", "orient": "bottom", "anchor": "start", "frame": "group", "dx": -65, "offset": -17, "font": "Liberation Sans", "fontSize": 20, "fontWeight": "normal", "color": "#1d2433"},
 "layer": [
  {"mark": {"type": "line", "stroke": "#333", "strokeWidth": 1},
   "encoding": {
    "x": {"field": "x", "type": "quantitative", "scale": {"domain": [0.845, 2.23], "nice": false, "zero": false}, "axis": {"orient": "top", "values": [1, 1.5, 2], "labels": false, "tickSize": -5, "title": "0th order transmission", "titleX": 8, "titleY": 21, "titleAlign": "left", "titleAngle": 0, "titleBaseline": "alphabetic", "titleFont": "Liberation Sans", "titleFontSize": 14.5}},
    "y": {"field": "y", "type": "quantitative", "scale": {"domain": [-0.007, 0.365], "nice": false, "zero": false}, "axis": {"orient": "right", "values": [0, 0.1, 0.2, 0.3], "labels": false, "tickSize": 4, "title": null}},
    "detail": {"field": "f"}
   }},
  {"mark": {"type": "point", "stroke": "#1a1a1a", "strokeWidth": 1, "opacity": 1, "size": 42},
   "encoding": {
    "x": {"field": "x", "type": "quantitative", "scale": {"domain": [0.845, 2.23], "nice": false, "zero": false}, "axis": {"orient": "bottom", "values": [1, 1.5, 2], "format": ".1f", "tickSize": 5, "labelPadding": 5, "title": "λGaAs /p", "titleFont": "Liberation Serif", "titleFontSize": 19, "titleX": 70, "titleY": 46, "titleAlign": "left", "titleAnchor": "start", "titleBaseline": "alphabetic"}},
    "y": {"field": "y", "type": "quantitative", "scale": {"domain": [-0.007, 0.365], "nice": false, "zero": false}, "axis": {"orient": "left", "values": [0, 0.1, 0.2, 0.3], "format": ".2f", "tickSize": 4, "labelPadding": 1, "title": "T", "titleFontStyle": "italic", "titleFontSize": 19, "titleX": -46, "titleBaseline": "alphabetic"}},
    "shape": {"field": "f", "type": "nominal", "scale": {"domain": ["0.2","0.3","0.4","0.5","0.6","0.7","0.8"], "range": ["circle","square","triangle-down","square","triangle-up","M-1.2,0H1.2M0,-1.2V1.2","M-0.75,0A0.75,0.75,0,1,1,0.75,0A0.75,0.75,0,1,1,-0.75,0Z"]}, "legend": null},
    "fill": {"field": "f", "type": "nominal", "scale": {"domain": ["0.2","0.3","0.4","0.5","0.6","0.7","0.8"], "range": ["white","white","white","#111","white","white","#111"]}, "legend": null}
   }}
 ],
 "resolve": {"scale": {"x": "independent", "y": "independent"}}
},
{
 "width": 169, "height": 155, "data": {"name": "b3"},
 "title": {"text": "(b)", "orient": "bottom", "anchor": "start", "frame": "group", "dx": -54, "offset": -17, "font": "Liberation Sans", "fontSize": 20, "fontWeight": "normal", "color": "#1d2433"},
 "layer": [
  {"mark": {"type": "line", "stroke": "#333", "strokeWidth": 1},
   "encoding": {
    "x": {"field": "x", "type": "quantitative", "scale": {"domain": [0.835, 2.23], "nice": false, "zero": false}, "axis": {"orient": "top", "values": [1, 1.5, 2], "labels": false, "tickSize": -5, "title": "0th order transmission", "titleX": 8, "titleY": 21, "titleAlign": "left", "titleAngle": 0, "titleBaseline": "alphabetic", "titleFont": "Liberation Sans", "titleFontSize": 14.5}},
    "y": {"field": "y", "type": "quantitative", "scale": {"domain": [-0.01, 0.8], "nice": false, "zero": false}, "axis": {"orient": "right", "values": [0, 0.2, 0.4, 0.6], "labels": false, "tickSize": 4, "title": null}},
    "detail": {"field": "f"}
   }},
  {"mark": {"type": "point", "stroke": "#1a1a1a", "strokeWidth": 1, "opacity": 1, "size": 42},
   "encoding": {
    "x": {"field": "x", "type": "quantitative", "scale": {"domain": [0.835, 2.23], "nice": false, "zero": false}, "axis": {"orient": "bottom", "values": [1, 1.5, 2], "format": ".1f", "tickSize": 5, "labelPadding": 5, "title": "λGaAs /p", "titleFont": "Liberation Serif", "titleFontSize": 19, "titleX": 50, "titleY": 46, "titleAlign": "left", "titleAnchor": "start", "titleBaseline": "alphabetic"}},
    "y": {"field": "y", "type": "quantitative", "scale": {"domain": [-0.01, 0.8], "nice": false, "zero": false}, "axis": {"orient": "left", "values": [0, 0.2, 0.4, 0.6], "format": ".1f", "tickSize": 4, "labelPadding": 1, "title": "T", "titleFontStyle": "italic", "titleFontSize": 19, "titleX": -42, "titleBaseline": "alphabetic"}},
    "shape": {"field": "f", "type": "nominal", "scale": {"domain": ["0.2","0.3","0.4","0.5","0.6","0.7","0.8"], "range": ["circle","square","triangle-down","square","triangle-up","M-1.2,0H1.2M0,-1.2V1.2","M-0.75,0A0.75,0.75,0,1,1,0.75,0A0.75,0.75,0,1,1,-0.75,0Z"]}, "legend": null},
    "fill": {"field": "f", "type": "nominal", "scale": {"domain": ["0.2","0.3","0.4","0.5","0.6","0.7","0.8"], "range": ["white","white","white","#111","white","white","#111"]}, "legend": null}
   }}
 ],
 "resolve": {"scale": {"x": "independent", "y": "independent"}}
}
],
"columns": 2,
"spacing": {"row": 0, "column": 72},
"bounds": "flush",
"resolve": {"scale": {"shape": "independent", "fill": "independent"}, "legend": {"shape": "independent", "fill": "independent"}}
}
